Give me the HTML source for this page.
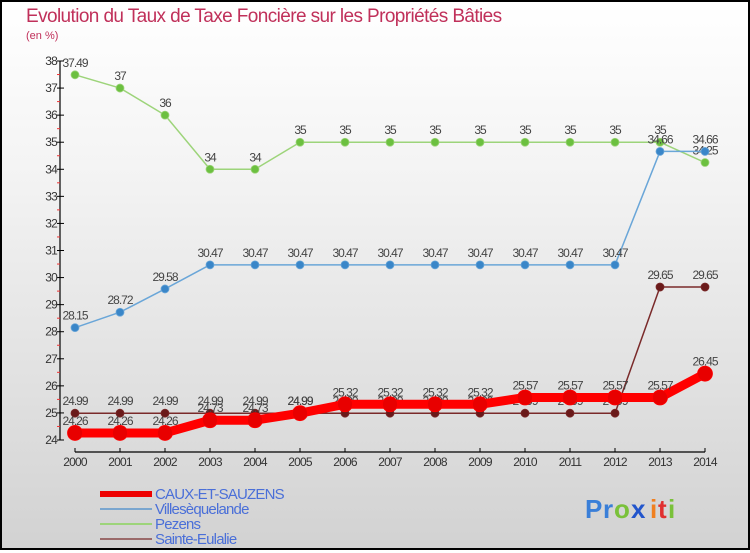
<!DOCTYPE html>
<html><head><meta charset="utf-8"><style>
html,body{margin:0;padding:0}
body{width:750px;height:550px;overflow:hidden;font-family:"Liberation Sans",sans-serif}
#wrap{position:relative;width:746px;height:546px;border:2px solid #000;background:linear-gradient(#fff 0%,#f4f4f4 30%,#d2d2d2 100%)}
svg text{font-family:"Liberation Sans",sans-serif}
</style></head><body>
<div id="wrap">
<svg id="chart" width="746" height="546" viewBox="2 2 746 546" xmlns="http://www.w3.org/2000/svg">
<text x="26" y="22" font-size="19" fill="#c0305a" letter-spacing="-0.6">Evolution du Taux de Taxe Foncière sur les Propriétés Bâties</text>
<text x="26" y="39" font-size="11" fill="#c0305a">(en %)</text>
<g id="axes"></g>
<g id="series"></g>
<g id="legend">
<rect x="100" y="491" width="52" height="6" fill="#e00"/>
<text x="155" y="499" font-size="15" fill="#4a6fd8" letter-spacing="-0.8">CAUX-ET-SAUZENS</text>
<line x1="100" y1="509" x2="152" y2="509" stroke="#7aa6cf" stroke-width="2"/>
<text x="155" y="514" font-size="15" fill="#4a6fd8" letter-spacing="-0.8">Villesèquelande</text>
<line x1="100" y1="524" x2="152" y2="524" stroke="#9dd47a" stroke-width="2"/>
<text x="155" y="529" font-size="15" fill="#4a6fd8" letter-spacing="-0.8">Pezens</text>
<line x1="100" y1="539" x2="152" y2="539" stroke="#9a6a6a" stroke-width="2"/>
<text x="155" y="544" font-size="15" fill="#4a6fd8" letter-spacing="-0.8">Sainte-Eulalie</text>
</g>
<g font-size="26" font-weight="bold">
<text x="585" y="518" fill="#3a7fd8">P</text><text x="603" y="518" fill="#3a7fd8">r</text><text x="614" y="518" fill="#7ac13a">o</text><text x="631" y="518" fill="#2255cc">x</text><text x="650" y="518" fill="#f08020">i</text><text x="658" y="518" fill="#e03030">t</text><text x="668" y="518" fill="#7ac13a">i</text>
</g>
</svg>
</div>
<script>
const years=[2000,2001,2002,2003,2004,2005,2006,2007,2008,2009,2010,2011,2012,2013,2014];
const yTicks=[24,25,26,27,28,29,30,31,32,33,34,35,36,37,38];
const caux=[24.26,24.26,24.26,24.73,24.73,24.99,25.32,25.32,25.32,25.32,25.57,25.57,25.57,25.57,26.45];
const ville=[28.15,28.72,29.58,30.47,30.47,30.47,30.47,30.47,30.47,30.47,30.47,30.47,30.47,34.66,34.66];
const pezens=[37.49,37,36,34,34,35,35,35,35,35,35,35,35,35,34.25];
const eulalie=[24.99,24.99,24.99,24.99,24.99,24.99,24.99,24.99,24.99,24.99,24.99,24.99,24.99,29.65,29.65];
const NS="http://www.w3.org/2000/svg";
const x0=75,xStep=45,yTop=61,yBot=440,vMin=24,vMax=38;
function xs(i){return x0+i*xStep;}
function ys(v){return yBot-(v-vMin)*(yBot-yTop)/(vMax-vMin);}
function mk(tag,attrs,parent){const e=document.createElementNS(NS,tag);for(const k in attrs)e.setAttribute(k,attrs[k]);parent.appendChild(e);return e;}
const axes=document.getElementById('axes');
let a=mk('line',{x1:60,y1:yTop,x2:60,y2:yBot,stroke:'#000','stroke-width':1.2},axes);


yTicks.forEach(v=>{
  const y=ys(v);
  const t=mk('line',{x1:57,y1:y,x2:64,y2:y,stroke:'#000'},axes);
  
  
  const l=mk('text',{x:57,y:y+4,'font-size':12,fill:'#333','text-anchor':'end','letter-spacing':'-0.8'},axes);
  l.textContent=v;
  
  
  if(v<vMax){const m=mk('line',{x1:57,y1:ys(v+0.5),x2:60,y2:ys(v+0.5),stroke:'#e33'},axes);
  
  }
});
a=mk('line',{x1:xs(0),y1:452,x2:xs(years.length-1),y2:452,stroke:'#000','stroke-width':1.2},axes);


years.forEach((yr,i)=>{
  const t=mk('line',{x1:xs(i),y1:448,x2:xs(i),y2:452,stroke:'#000'},axes);
  
  
  const l=mk('text',{x:xs(i),y:466,'font-size':12,fill:'#333','text-anchor':'middle','letter-spacing':'-0.8'},axes);
  l.textContent=yr;
  
  
});
const ser=document.getElementById('series');
function draw(vals,name,color,dot,lw,r){
  const g=mk('g',{},ser);
  
  
  const p=mk('polyline',{points:vals.map((v,i)=>xs(i)+','+ys(v)).join(' '),fill:'none',stroke:color,'stroke-width':lw,'stroke-linejoin':'round'},g);
  
  
  vals.forEach((v,i)=>{
    const c=mk('circle',{cx:xs(i),cy:ys(v),r:r,fill:dot,stroke:color,'stroke-width':0.8},g);
    
    
    const t=mk('text',{x:xs(i),y:ys(v)-8,'font-size':12,fill:'#444','text-anchor':'middle','letter-spacing':'-1'},g);
    t.textContent=v;
    
    
  });
}
draw(eulalie,'sainte-eulalie','#7a2a2a','#6a1a1a',1.5,4);
draw(pezens,'pezens','#9dd47a','#6cc040',1.5,4);
draw(ville,'villesequelande','#6aa6d8','#3a86c8',1.5,4);
draw(caux,'caux-et-sauzens','#f00','#e80000',9,7.5);
</script>
</body></html>
